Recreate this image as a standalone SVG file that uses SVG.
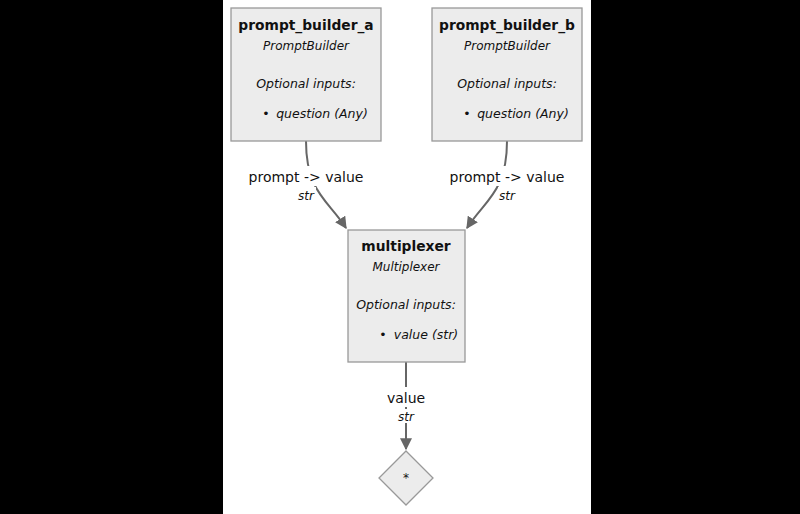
<svg xmlns="http://www.w3.org/2000/svg" width="800" height="514" viewBox="0 0 800 514">
<defs>
<style>
.bg{fill:#000}
.panel{fill:#fff}
.box{fill:#ececec;stroke:#999;stroke-width:1.3}
.t{font-family:"DejaVu Sans",Verdana,sans-serif;fill:#111;text-anchor:middle}
.title{font-size:13.8px;font-weight:bold}
.it{font-style:italic;font-size:12px}
.opt{font-style:italic;font-size:12.5px}
.bul{font-size:12.5px;text-anchor:middle}
.lbl{font-size:14px}
.edge{fill:none;stroke:#666;stroke-width:2}
</style>
<marker id="arr" viewBox="0 0 10 10" refX="9" refY="5" markerWidth="6" markerHeight="6" orient="auto" markerUnits="strokeWidth">
<path d="M0,0 L10,5 L0,10 z" fill="#666"/>
</marker>
</defs>
<rect class="bg" x="0" y="0" width="800" height="514"/>
<rect class="panel" x="223" y="0" width="368" height="514"/>
<g id="connectors">
<path class="edge" d="M306,141 C306,192 328,200 346,228" marker-end="url(#arr)"/>
<path class="edge" d="M507,141 C507,192 485,200 467,228" marker-end="url(#arr)"/>
<path class="edge" d="M406,362 L406,449" marker-end="url(#arr)"/>
<rect x="248" y="166" width="116" height="20" fill="#fff"/>
<text class="t lbl" x="306" y="182">prompt -&gt; value</text>
<rect x="297" y="187" width="19" height="14" fill="#fff"/>
<text class="t it" x="306" y="200">str</text>
<rect x="449" y="166" width="116" height="20" fill="#fff"/>
<text class="t lbl" x="507" y="182">prompt -&gt; value</text>
<rect x="498" y="187" width="19" height="14" fill="#fff"/>
<text class="t it" x="507" y="200">str</text>
<rect x="387" y="387" width="40" height="20" fill="#fff"/>
<text class="t lbl" x="406" y="403">value</text>
<rect x="397" y="409" width="19" height="14" fill="#fff"/>
<text class="t it" x="406" y="421">str</text>
</g>
<g id="prompt_builder_a">
<rect class="box" x="231" y="8" width="150" height="133"/>
<text class="t title" x="306" y="30">prompt_builder_a</text>
<text class="t it" x="306" y="50">PromptBuilder</text>
<text class="t opt" x="306" y="88">Optional inputs:</text>
<text class="t bul" x="266" y="118">•</text>
<text class="t opt" x="322" y="118">question (Any)</text>
</g>
<g id="prompt_builder_b">
<rect class="box" x="432" y="8" width="150" height="133"/>
<text class="t title" x="507" y="30">prompt_builder_b</text>
<text class="t it" x="507" y="50">PromptBuilder</text>
<text class="t opt" x="507" y="88">Optional inputs:</text>
<text class="t bul" x="467" y="118">•</text>
<text class="t opt" x="523" y="118">question (Any)</text>
</g>
<g id="multiplexer">
<rect class="box" x="348" y="230" width="117" height="132"/>
<text class="t title" x="406" y="251">multiplexer</text>
<text class="t it" x="406" y="271">Multiplexer</text>
<text class="t opt" x="406" y="309">Optional inputs:</text>
<text class="t bul" x="383" y="339">•</text>
<text class="t opt" x="426" y="339">value (str)</text>
</g>
<g id="output">
<polygon class="box" points="406,451 433,478 406,505 379,478"/>
<text class="t" x="406" y="482" style="font-size:12px">*</text>
</g>
</svg>
